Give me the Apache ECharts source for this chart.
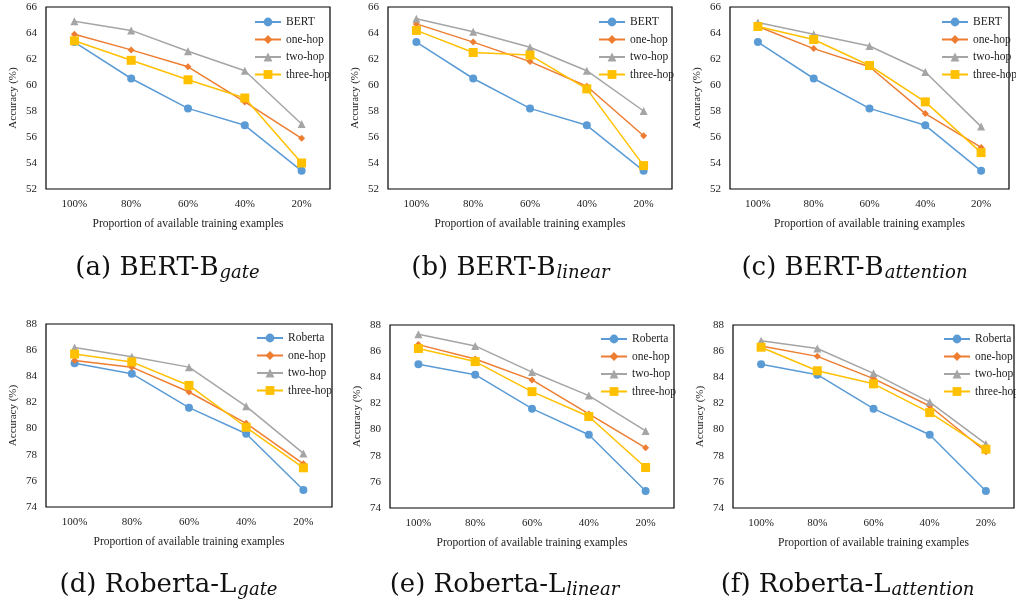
<!DOCTYPE html>
<html>
<head>
<meta charset="utf-8">
<script src="https://cdn.jsdelivr.net/npm/echarts@6/dist/echarts.min.js"></script>
<style>html,body{margin:0;padding:0;background:#fff;}#c{width:1016px;height:601px;}</style>
</head>
<body>
<div id="c"></div>
<script>
// ---- data ----
const categories = ['100%', '80%', '60%', '40%', '20%'];
const seriesNames = ['one-hop', 'two-hop', 'three-hop'];

const bertBase = [63.3, 60.5, 58.2, 56.9, 53.4];
const bertGateOne = [63.9, 62.7, 61.4, 58.7, 55.9];
const bertGateTwo = [64.9, 64.2, 62.6, 61.1, 57.0];
const bertGateThree = [63.4, 61.9, 60.4, 59.0, 54.0];

const bertLinearOne = [64.7, 63.3, 61.8, 59.9, 56.1];
const bertLinearTwo = [65.1, 64.1, 62.9, 61.1, 58.0];
const bertLinearThree = [64.2, 62.5, 62.3, 59.7, 53.8];

const bertAttnOne = [64.5, 62.8, 61.4, 57.8, 55.2];
const bertAttnTwo = [64.8, 63.9, 63.0, 61.0, 56.8];
const bertAttnThree = [64.5, 63.5, 61.5, 58.7, 54.8];

const robertaBase = [85.0, 84.2, 81.6, 79.6, 75.3];
const robGateOne = [85.2, 84.7, 82.8, 80.4, 77.3];
const robGateTwo = [86.2, 85.5, 84.7, 81.7, 78.1];
const robGateThree = [85.7, 85.1, 83.3, 80.1, 77.0];

const robLinearOne = [86.5, 85.4, 83.8, 81.2, 78.6];
const robLinearTwo = [87.3, 86.4, 84.4, 82.6, 79.9];
const robLinearThree = [86.2, 85.2, 82.9, 81.0, 77.1];

const robAttnOne = [86.4, 85.6, 83.9, 81.8, 78.3];
const robAttnTwo = [86.8, 86.2, 84.3, 82.1, 78.9];
const robAttnThree = [86.3, 84.5, 83.5, 81.3, 78.5];

const yTicksTop = [52, 66, 2];
const yTicksBottom = [74, 88, 2];

const captions = [
  ['(a) BERT-B', 'gate'], ['(b) BERT-B', 'linear'], ['(c) BERT-B', 'attention'],
  ['(d) Roberta-L', 'gate'], ['(e) Roberta-L', 'linear'], ['(f) Roberta-L', 'attention']
];

// ---- layout ----
const panels = [
  {grid: {left: 46, top: 7, width: 284, height: 182}, base: 'BERT', data: [bertBase, bertGateOne, bertGateTwo, bertGateThree], y: yTicksTop, leg: [254, 16], cap: [167, 268]},
  {grid: {left: 388, top: 7, width: 284, height: 182}, base: 'BERT', data: [bertBase, bertLinearOne, bertLinearTwo, bertLinearThree], y: yTicksTop, leg: [598, 16], cap: [510, 268]},
  {grid: {left: 730, top: 7, width: 279, height: 182}, base: 'BERT', data: [bertBase, bertAttnOne, bertAttnTwo, bertAttnThree], y: yTicksTop, leg: [941, 16], cap: [854, 268]},
  {grid: {left: 46, top: 324, width: 286, height: 183}, base: 'Roberta', data: [robertaBase, robGateOne, robGateTwo, robGateThree], y: yTicksBottom, leg: [256, 332], cap: [168, 585]},
  {grid: {left: 390, top: 325, width: 284, height: 183}, base: 'Roberta', data: [robertaBase, robLinearOne, robLinearTwo, robLinearThree], y: yTicksBottom, leg: [600, 333], cap: [504, 585]},
  {grid: {left: 733, top: 325, width: 281, height: 183}, base: 'Roberta', data: [robertaBase, robAttnOne, robAttnTwo, robAttnThree], y: yTicksBottom, leg: [943, 333], cap: [847, 585]}
];

const colors = ['#5B9BD5', '#ED7D31', '#A5A5A5', '#FFC000'];
const symbols = ['circle', 'diamond', 'triangle', 'rect'];
const symbolSizes = [8, 7, 8, 9];
const FONT = '"Liberation Serif", "Times New Roman", serif';
const CAP_FONT = '"DejaVu Serif", serif';
const CAP_SIZE = 26;
const SUB_SIZE = 18;

const ctx = document.createElement('canvas').getContext('2d');
function measure(text, font) { ctx.font = font; return ctx.measureText(text).width; }

const option = {
  animation: false,
  backgroundColor: '#fff',
  grid: [], xAxis: [], yAxis: [], series: [], legend: [], graphic: []
};

panels.forEach((p, i) => {
  option.grid.push(Object.assign({show: true, borderColor: '#000', borderWidth: 1.2, backgroundColor: 'transparent'}, p.grid));
  option.xAxis.push({
    type: 'category', gridIndex: i, data: categories, boundaryGap: true,
    axisLine: {show: false}, axisTick: {show: false},
    axisLabel: {color: '#222', fontFamily: FONT, fontSize: 11, margin: 10},
    name: 'Proportion of available training examples', nameLocation: 'middle', nameGap: 29,
    nameTextStyle: {color: '#222', fontFamily: FONT, fontSize: 11.5}
  });
  option.yAxis.push({
    type: 'value', gridIndex: i, min: p.y[0], max: p.y[1], interval: p.y[2],
    axisLine: {show: false}, axisTick: {show: false}, splitLine: {show: false},
    axisLabel: {color: '#222', fontFamily: FONT, fontSize: 11, margin: 9},
    name: 'Accuracy (%)', nameLocation: 'middle', nameGap: 27,
    nameTextStyle: {color: '#222', fontFamily: FONT, fontSize: 11}
  });
  const names = [p.base].concat(seriesNames);
  names.forEach((n, k) => {
    option.series.push({
      type: 'line', name: n, xAxisIndex: i, yAxisIndex: i, data: p.data[k],
      symbol: symbols[k], symbolSize: symbolSizes[k], showSymbol: true,
      lineStyle: {color: colors[k], width: 1.5},
      itemStyle: {color: colors[k]}, z: 2 + k
    });
  });
  option.legend.push({
    orient: 'vertical', left: p.leg[0], top: p.leg[1], data: names,
    itemWidth: 26, itemHeight: 11, itemGap: 5.5, padding: 0,
    textStyle: {color: '#222', fontFamily: FONT, fontSize: 11.5},
    selectedMode: false
  });
  const mainFont = CAP_SIZE + 'px ' + CAP_FONT;
  const subFont = 'italic ' + SUB_SIZE + 'px ' + CAP_FONT;
  const w1 = measure(captions[i][0], mainFont);
  const w2 = measure(captions[i][1], subFont);
  const x0 = p.cap[0] - (w1 + w2) / 2;
  option.graphic.push({
    type: 'text', x: x0, y: p.cap[1],
    style: {text: captions[i][0], font: mainFont, fill: '#111', align: 'left', verticalAlign: 'middle'}
  });
  option.graphic.push({
    type: 'text', x: x0 + w1 + 1, y: p.cap[1] + 5,
    style: {text: captions[i][1], font: subFont, fill: '#111', align: 'left', verticalAlign: 'middle'}
  });
});

const chart = echarts.init(document.getElementById('c'), null, {renderer: 'canvas'});
chart.setOption(option);
</script>
</body>
</html>
